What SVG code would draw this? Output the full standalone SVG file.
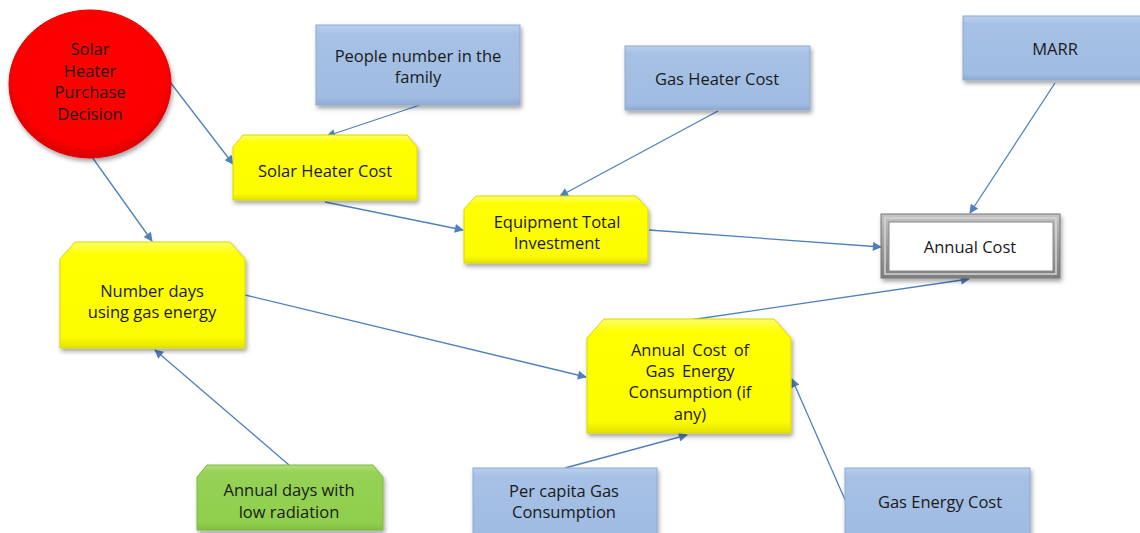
<svg xmlns="http://www.w3.org/2000/svg" width="1140" height="533" viewBox="0 0 1140 533">
  <style>
    text { font-family: "Open Sans", "Liberation Sans", sans-serif; font-size: 16.5px; fill: #1a1a1a; text-anchor: middle; }
    .blue { fill: url(#gBlue); stroke: #8ea9cf; stroke-width: 1; filter: url(#shadow); }
    .yellow { fill: url(#gYellow); stroke: #d8d800; stroke-width: 1; filter: url(#shadow); }
    .green { fill: url(#gGreen); stroke: #7fb942; stroke-width: 1; filter: url(#shadow); }
    .edge { stroke: #4f81bd; stroke-width: 1.3; fill: none; marker-end: url(#arrow); }
  </style>
  <defs>
    <filter id="shadow" x="-10%" y="-10%" width="130%" height="140%">
      <feDropShadow dx="1.5" dy="3" stdDeviation="2" flood-color="#000" flood-opacity="0.35"/>
    </filter>
    <linearGradient id="gBlue" x1="0" y1="0" x2="0" y2="1">
      <stop offset="0" stop-color="#b9cfee"/>
      <stop offset="0.12" stop-color="#a6c1e5"/>
      <stop offset="0.9" stop-color="#a0bce2"/>
      <stop offset="1" stop-color="#8fabd3"/>
    </linearGradient>
    <linearGradient id="gYellow" x1="0" y1="0" x2="0" y2="1">
      <stop offset="0" stop-color="#ffff66"/>
      <stop offset="0.12" stop-color="#ffff00"/>
      <stop offset="0.9" stop-color="#fcfc00"/>
      <stop offset="1" stop-color="#e2e200"/>
    </linearGradient>
    <linearGradient id="gGreen" x1="0" y1="0" x2="0" y2="1">
      <stop offset="0" stop-color="#aee07a"/>
      <stop offset="0.12" stop-color="#95d255"/>
      <stop offset="0.9" stop-color="#90cf4e"/>
      <stop offset="1" stop-color="#7fbd40"/>
    </linearGradient>
    <radialGradient id="gRed" cx="0.5" cy="0.45" r="0.55">
      <stop offset="0" stop-color="#ff0000"/>
      <stop offset="0.85" stop-color="#fc0000"/>
      <stop offset="1" stop-color="#d80000"/>
    </radialGradient>
    <linearGradient id="gFrame" x1="0" y1="0" x2="0" y2="1">
      <stop offset="0" stop-color="#c4c4c4"/>
      <stop offset="0.5" stop-color="#9c9c9c"/>
      <stop offset="1" stop-color="#7e7e7e"/>
    </linearGradient>
    <marker id="arrow" viewBox="0 0 10 10" refX="9" refY="5" markerWidth="11" markerHeight="9" markerUnits="userSpaceOnUse" orient="auto">
      <path d="M0,0 L10,5 L0,10 z" fill="#4f81bd"/>
    </marker>
  </defs>

  <!-- connectors -->
  <g id="connectors">
    <line class="edge" x1="170" y1="82" x2="233" y2="164"/>
    <line class="edge" x1="92" y1="157" x2="152" y2="241"/>
    <line class="edge" x1="420" y1="105" x2="327" y2="136"/>
    <line class="edge" x1="325" y1="202" x2="463" y2="230"/>
    <line class="edge" x1="718" y1="111" x2="560" y2="196"/>
    <line class="edge" x1="649" y1="230" x2="881" y2="247"/>
    <line class="edge" x1="1055" y1="83" x2="970" y2="213"/>
    <line class="edge" x1="690" y1="320" x2="969" y2="279"/>
    <line class="edge" x1="245" y1="295" x2="586" y2="377"/>
    <line class="edge" x1="289" y1="465" x2="155" y2="350"/>
    <line class="edge" x1="565" y1="468" x2="687" y2="435"/>
    <line class="edge" x1="846" y1="502" x2="792" y2="379"/>
  </g>

  <!-- decision node -->
  <g id="decision">
    <ellipse cx="90" cy="84" rx="81" ry="74" fill="url(#gRed)" stroke="#e00000" stroke-width="1" filter="url(#shadow)"/>
    <text x="90" y="55">Solar</text>
    <text x="90" y="77">Heater</text>
    <text x="90" y="98">Purchase</text>
    <text x="90" y="120">Decision</text>
  </g>

  <g id="people">
    <rect class="blue" x="316" y="25" width="204" height="80"/>
    <text x="418" y="62">People number in the</text>
    <text x="418" y="83">family</text>
  </g>

  <g id="gasHeater">
    <rect class="blue" x="625" y="46" width="185" height="64"/>
    <text x="717" y="85">Gas Heater Cost</text>
  </g>

  <g id="marr">
    <rect class="blue" x="963" y="16" width="184" height="64"/>
    <text x="1055" y="55">MARR</text>
  </g>

  <g id="solarCost">
    <path class="yellow" d="M243,135 L407,135 L417,147 L417,200 L233,200 L233,147 Z"/>
    <text x="325" y="177">Solar Heater Cost</text>
  </g>

  <g id="equipment">
    <path class="yellow" d="M476,196 L636,196 L648,209 L648,263 L464,263 L464,209 Z"/>
    <text x="557" y="228">Equipment Total</text>
    <text x="557" y="249">Investment</text>
  </g>

  <g id="annualCost">
    <rect x="881" y="214" width="179" height="64" fill="url(#gFrame)" stroke="#767676" stroke-width="1" filter="url(#shadow)"/>
    <rect x="885" y="218" width="171" height="56" fill="none" stroke="#d6d6d6" stroke-width="1.5"/>
    <rect x="889" y="222" width="164" height="49" fill="#ffffff" stroke="#8a8a8a" stroke-width="1"/>
    <text x="970" y="253">Annual Cost</text>
  </g>

  <g id="daysGas">
    <path class="yellow" d="M75,242 L230,242 L245,259 L245,348 L60,348 L60,259 Z"/>
    <text x="152" y="297">Number days</text>
    <text x="152" y="318">using gas energy</text>
  </g>

  <g id="gasConsumption">
    <path class="yellow" d="M604,319 L774,319 L791,338 L791,433 L587,433 L587,338 Z"/>
    <text x="690" y="356" word-spacing="3">Annual Cost of</text>
    <text x="690" y="377" word-spacing="3">Gas Energy</text>
    <text x="690" y="398">Consumption (if</text>
    <text x="690" y="420">any)</text>
  </g>

  <g id="lowRadiation">
    <path class="green" d="M207,465 L373,465 L383,477 L383,530 L197,530 L197,477 Z"/>
    <text x="289" y="496">Annual days with</text>
    <text x="289" y="518">low radiation</text>
  </g>

  <g id="perCapita">
    <rect class="blue" x="473" y="468" width="184" height="72"/>
    <text x="564" y="497">Per capita Gas</text>
    <text x="564" y="518">Consumption</text>
  </g>

  <g id="gasEnergyCost">
    <rect class="blue" x="845" y="468" width="185" height="72"/>
    <text x="940" y="508">Gas Energy Cost</text>
  </g>
</svg>
